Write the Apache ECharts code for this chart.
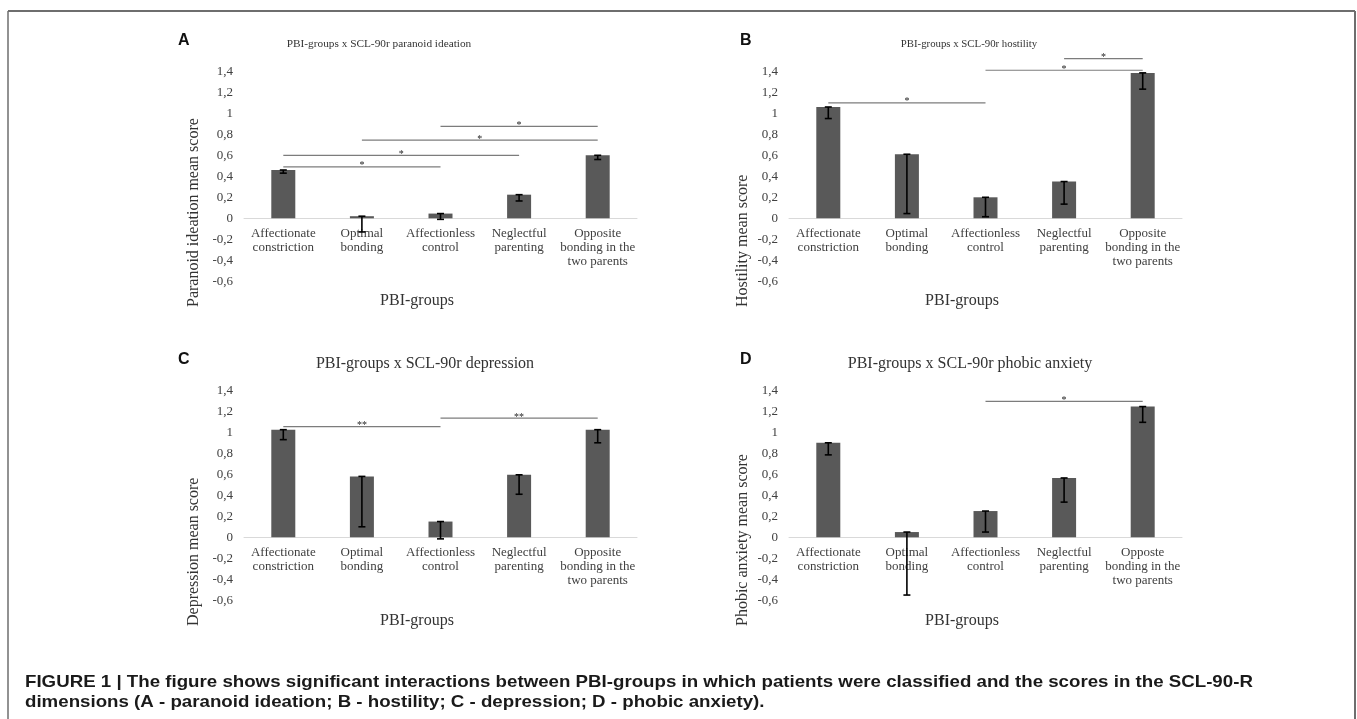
<!DOCTYPE html>
<html><head><meta charset="utf-8">
<script src="https://cdn.jsdelivr.net/npm/echarts@6/dist/echarts.min.js"></script>
<style>html,body{margin:0;padding:0;background:#fff}#c{width:1357px;height:719px}</style>
</head><body><div id="c"></div>
<script>
// ---------- data ----------
const categories = ['Affectionate\nconstriction', 'Optimal\nbonding', 'Affectionless\ncontrol', 'Neglectful\nparenting', 'Opposite\nbonding in the\ntwo parents'];
const categoriesD = ['Affectionate\nconstriction', 'Optimal\nbonding', 'Affectionless\ncontrol', 'Neglectful\nparenting', 'Opposte\nbonding in the\ntwo parents'];
const yTickLabels = ['-0,6', '-0,4', '-0,2', '0', '0,2', '0,4', '0,6', '0,8', '1', '1,2', '1,4'];

// bar means and lower ends of the (minus-direction) error bars
const meanA = [0.46, 0.02, 0.045, 0.225, 0.60];
const lowA  = [0.43, -0.13, -0.01, 0.165, 0.56];
const meanB = [1.06, 0.61, 0.20, 0.35, 1.385];
const lowB  = [0.95, 0.045, 0.015, 0.135, 1.23];
const meanC = [1.025, 0.58, 0.15, 0.595, 1.025];
const lowC  = [0.93, 0.10, -0.015, 0.41, 0.90];
const meanD = [0.90, 0.05, 0.25, 0.565, 1.245];
const lowD  = [0.785, -0.55, 0.05, 0.335, 1.095];

// significance brackets: [fromCategory, toCategory, level, mark]
const sigA = [[0, 2, 0.49, '*'], [0, 3, 0.60, '*'], [1, 4, 0.745, '*'], [2, 4, 0.875, '*']];
const sigB = [[0, 2, 1.10, '*'], [2, 4, 1.41, '*'], [3, 4, 1.52, '*']];
const sigC = [[0, 2, 1.055, '**'], [2, 4, 1.135, '**']];
const sigD = [[2, 4, 1.295, '*']];

const panelTitles = ['PBI-groups x SCL-90r paranoid ideation', 'PBI-groups x SCL-90r hostility', 'PBI-groups x SCL-90r depression', 'PBI-groups x SCL-90r phobic anxiety'];
const yTitles = ['Paranoid ideation mean score', 'Hostility mean score', 'Depression mean score', 'Phobic anxiety mean score'];
const panelLetters = ['A', 'B', 'C', 'D'];
const xTitle = 'PBI-groups';
const captionLines = [
  'FIGURE 1 | The figure shows significant interactions between PBI-groups in which patients were classified and the scores in the SCL-90-R',
  'dimensions (A - paranoid ideation; B - hostility; C - depression; D - phobic anxiety).'
];

// ---------- layout ----------
const SERIF = '"Liberation Serif", "Times New Roman", serif';
const SANS = '"Liberation Sans", Arial, sans-serif';
const STEP = 21; // px per 0.2
const grids = [
  {left: 244, top: 50.3, width: 393, height: 11 * STEP},
  {left: 789, top: 50.3, width: 393, height: 11 * STEP},
  {left: 244, top: 369.3, width: 393, height: 11 * STEP},
  {left: 789, top: 369.3, width: 393, height: 11 * STEP}
];
const means = [meanA, meanB, meanC, meanD];
const lows = [lowA, lowB, lowC, lowD];
const sigs = [sigA, sigB, sigC, sigD];
const cats = [categories, categories, categories, categoriesD];

function errItem(params, api) {
  const x = api.value(0);
  const t = api.coord([x, api.value(1)]);
  const b = api.coord([x, api.value(2)]);
  const hw = 3.5;
  const st = {stroke: '#000', lineWidth: 1.6};
  return {type: 'group', children: [
    {type: 'line', shape: {x1: t[0], y1: t[1], x2: b[0], y2: b[1]}, style: st},
    {type: 'line', shape: {x1: t[0] - hw, y1: t[1], x2: t[0] + hw, y2: t[1]}, style: st},
    {type: 'line', shape: {x1: b[0] - hw, y1: b[1], x2: b[0] + hw, y2: b[1]}, style: st}
  ]};
}
function sigItemFactory(sig) {
  return function (params, api) {
    const p1 = api.coord([api.value(0), api.value(2)]);
    const p2 = api.coord([api.value(1), api.value(2)]);
    return {type: 'group', children: [
      {type: 'line', shape: {x1: p1[0], y1: p1[1], x2: p2[0], y2: p1[1]}, style: {stroke: '#7c7c7c', lineWidth: 1.2}},
      {type: 'text', x: (p1[0] + p2[0]) / 2, y: p1[1] - 1,
       style: {text: sig[params.dataIndex][3], font: '10px ' + SERIF, fill: '#222', align: 'center', verticalAlign: 'middle'}}
    ]};
  };
}

const xAxes = [], yAxes = [], series = [];
for (let k = 0; k < 4; k++) {
  xAxes.push({
    type: 'category', gridIndex: k, data: cats[k], position: 'bottom', offset: -3 * STEP,
    axisLine: {onZero: false, lineStyle: {color: '#d9d9d9', width: 1}},
    axisTick: {show: false},
    axisLabel: {interval: 0, fontFamily: SERIF, fontSize: 13, color: '#404040', lineHeight: 14, margin: 8}
  });
  yAxes.push({
    type: 'value', gridIndex: k, min: -0.6, max: 1.6, interval: 0.2,
    splitLine: {show: false}, axisLine: {show: false}, axisTick: {show: false},
    axisLabel: {
      fontFamily: SERIF, fontSize: 13, color: '#404040', margin: 11,
      formatter: function (v) { const i = Math.round((v + 0.6) / 0.2); return yTickLabels[i] || ''; }
    }
  });
  series.push({
    type: 'bar', xAxisIndex: k, yAxisIndex: k, data: means[k], barWidth: 24,
    itemStyle: {color: '#595959'}, silent: true
  });
  series.push({
    type: 'custom', xAxisIndex: k, yAxisIndex: k, renderItem: errItem,
    encode: {x: 0, y: [1, 2]}, z: 5, silent: true,
    data: means[k].map((m, i) => [i, m, lows[k][i]])
  });
  series.push({
    type: 'custom', xAxisIndex: k, yAxisIndex: k, renderItem: sigItemFactory(sigs[k]),
    encode: {x: [0, 1], y: 2}, z: 6, silent: true,
    data: sigs[k].map(s => [s[0], s[1], s[2]])
  });
}

// text positions (pixel layout)
const letterPos = [[178, 41], [740, 41], [178, 360], [740, 360]];
const titlePos = [[379, 44], [969, 44], [425, 364], [970, 364]];
const titleSize = [11.3, 10.8, 16, 16];
const yTitlePos = [[194, 307], [743, 307], [194, 626], [743, 626]];
const xTitlePos = [[417, 301], [962, 301], [417, 621], [962, 621]];

const graphics = [
  {type: 'line', shape: {x1: 8, y1: 11, x2: 1355, y2: 11}, style: {stroke: '#6e6e6e', lineWidth: 2}},
  {type: 'line', shape: {x1: 8, y1: 11, x2: 8, y2: 730}, style: {stroke: '#6e6e6e', lineWidth: 1.5}},
  {type: 'line', shape: {x1: 1355, y1: 11, x2: 1355, y2: 730}, style: {stroke: '#6e6e6e', lineWidth: 2}}
];
for (let k = 0; k < 4; k++) {
  graphics.push({type: 'text', x: letterPos[k][0], y: letterPos[k][1],
    style: {text: panelLetters[k], font: 'bold 16px ' + SANS, fill: '#111', align: 'left', verticalAlign: 'middle'}});
  graphics.push({type: 'text', x: titlePos[k][0], y: titlePos[k][1],
    style: {text: panelTitles[k], font: titleSize[k] + 'px ' + SERIF, fill: '#333', align: 'center', verticalAlign: 'middle'}});
  graphics.push({type: 'text', x: yTitlePos[k][0], y: yTitlePos[k][1], rotation: Math.PI / 2,
    style: {text: yTitles[k], font: '16px ' + SERIF, fill: '#333', align: 'left', verticalAlign: 'middle'}});
  graphics.push({type: 'text', x: xTitlePos[k][0], y: xTitlePos[k][1],
    style: {text: xTitle, font: '16px ' + SERIF, fill: '#333', align: 'center', verticalAlign: 'middle'}});
}
captionLines.forEach((t, i) => {
  graphics.push({type: 'text', x: 25, y: 682 + i * 20, scaleX: 1.133,
    style: {text: t, font: 'bold 16.5px ' + SANS, fill: '#1a1a1a', align: 'left', verticalAlign: 'middle'}});
});

const chart = echarts.init(document.getElementById('c'), null, {renderer: 'canvas'});
chart.setOption({
  animation: false,
  backgroundColor: '#fff',
  grid: grids,
  xAxis: xAxes,
  yAxis: yAxes,
  series: series,
  graphic: graphics
});
</script></body></html>
